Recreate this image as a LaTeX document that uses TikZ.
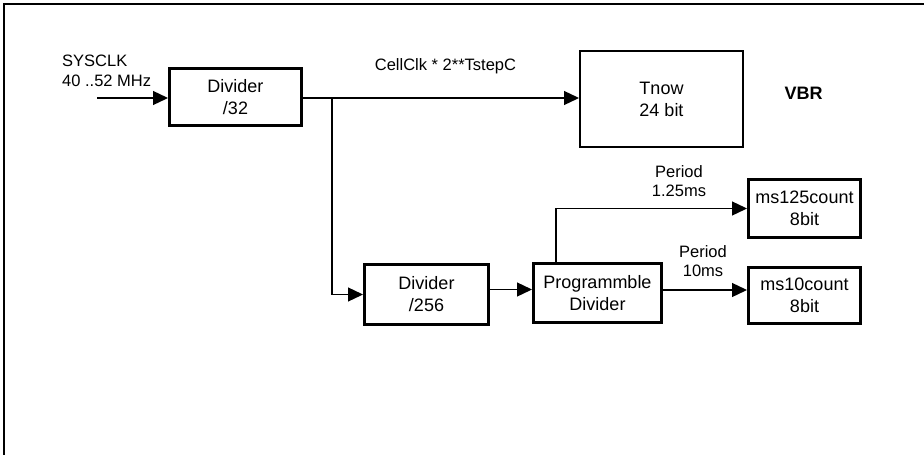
\documentclass[tikz,border=0pt]{standalone}
\usepackage{fontspec}
\setmainfont{Liberation Sans}
\usetikzlibrary{arrows.meta}
\begin{document}
\begin{tikzpicture}[x=1pt,y=-1pt,
  blk/.style={draw,line width=3pt,inner sep=0pt,align=center,
    font=\fontsize{18}{22}\selectfont},
  lbl/.style={inner sep=0pt,align=center,font=\fontsize{16.5}{19.5}\selectfont},
  arr/.style={line width=1.3pt,-{Triangle[length=15pt,width=14pt]}},
  wire/.style={line width=1.3pt}]
\useasboundingbox (0,0) rectangle (924,455);
\draw[line width=2.8pt] (924,4) -- (4,4) -- (4,456);
% blocks
\node[blk,minimum width=132pt,minimum height=57pt] (div32) at (235.5,97) {Divider\\/32};
\node[blk,line width=2.4pt,minimum width=162.6pt,minimum height=95.6pt] (tnow) at (661.5,99) {Tnow\\24 bit};
\node[blk,minimum width=124pt,minimum height=60pt] (div256) at (426.5,294.5) {Divider\\/256};
\node[blk,minimum width=128pt,minimum height=59pt] (prog) at (597.5,293) {Programmble\\Divider};
\node[blk,minimum width=112pt,minimum height=58pt] (ms125) at (804.5,208.5) {ms125count\\8bit};
\node[blk,minimum width=112pt,minimum height=56pt] (ms10) at (804.5,295.5) {ms10count\\8bit};
% labels
\node[lbl,anchor=west,align=left] (sysclk) at (62,71) {SYSCLK\\40 ..52 MHz};
\node[lbl] (cell) at (445.5,66) {CellClk * 2**TstepC};
\node[inner sep=0pt,font=\fontsize{18}{22}\selectfont\bfseries] (vbr) at (803.5,93) {VBR};
\node[lbl] (p125) at (679,181) {Period\\1.25ms};
\node[lbl] (p10) at (703,261) {Period\\10ms};
% connectors
\coordinate (in) at (97,98);
\draw[arr] (in) -- (in -| div32.west);
\draw[arr] ([yshift=-1pt]div32.east) -- ([yshift=-1pt]div32.east -| tnow.west);
\coordinate (br) at ([yshift=-1pt]div32.east -| 332,0);
\draw[arr] (br) |- (div256.west);
\draw[arr] ([yshift=5pt]div256.east) -- ([yshift=5pt]div256.east -| prog.west);
\draw[arr] ([xshift=-41.5pt]prog.north) |- (ms125.west);
\draw[arr] ([yshift=3pt]prog.east) -- ([yshift=3pt]prog.east -| ms10.west);
\end{tikzpicture}
\end{document}
